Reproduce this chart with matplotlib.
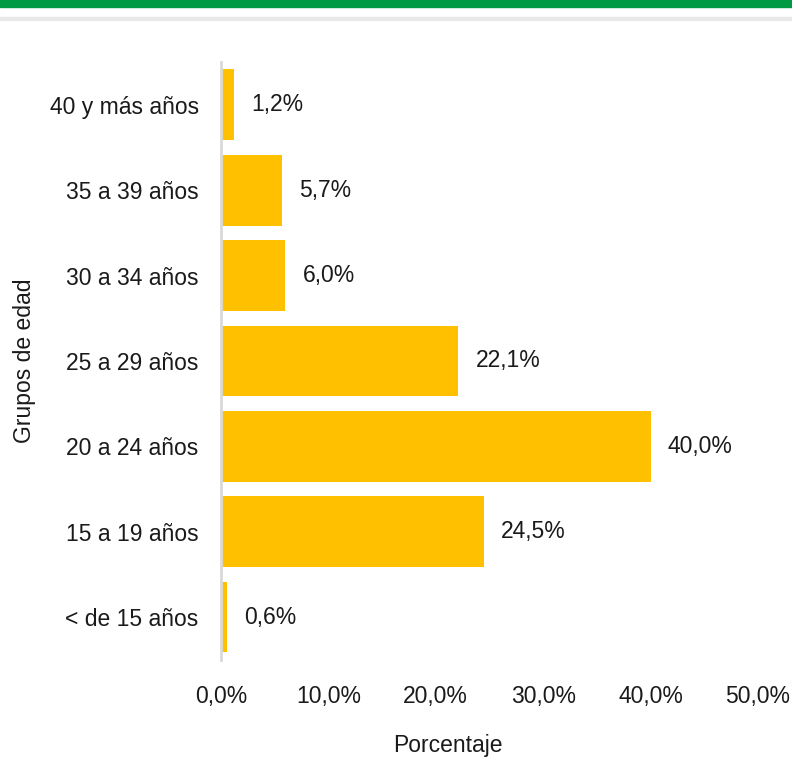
import matplotlib.pyplot as plt
from matplotlib.patches import Rectangle

# datos
grupos = ['< de 15 años', '15 a 19 años', '20 a 24 años', '25 a 29 años',
          '30 a 34 años', '35 a 39 años', '40 y más años']
porcentajes = [0.6, 24.5, 40.0, 22.1, 6.0, 5.7, 1.2]
xticks = [0, 10, 20, 30, 40, 50]

plt.rcParams['font.family'] = ['Liberation Sans Narrow', 'Liberation Sans', 'DejaVu Sans']
fs = 16.5

fig = plt.figure(figsize=(7.92, 7.68), dpi=100)
ax = fig.add_axes([0.279, 0.141, 0.678, 0.778])

# franja verde y linea gris superior
fig.patches.append(Rectangle((0, 1 - 7/768), 1, 7/768, transform=fig.transFigure,
                             color='#009A44', zorder=0))
fig.patches.append(Rectangle((0, 1 - 20/768), 1, 2.5/768, transform=fig.transFigure,
                             color='#E8E8E8', zorder=0))

ypos = range(len(grupos))
ax.barh(ypos, porcentajes, height=0.83, color='#FFC000')
for y, v in zip(ypos, porcentajes):
    ax.text(v + 1.6, y, f'{v:.1f}%'.replace('.', ','), va='center', ha='left',
            fontsize=fs, color='#1a1a1a')

ax.set_xlim(0, 50)
ax.set_ylim(-0.5, len(grupos) - 0.5)
ax.set_xticks(xticks)
ax.set_xticklabels([f'{t:.1f}%'.replace('.', ',') for t in xticks], fontsize=fs)
ax.set_yticks(list(ypos))
ax.set_yticklabels(grupos, fontsize=fs)
ax.tick_params(length=0, colors='#1a1a1a')
ax.tick_params(axis='y', pad=16)
ax.tick_params(axis='x', pad=18)

for s in ['top', 'right', 'bottom']:
    ax.spines[s].set_visible(False)
ax.spines['left'].set_color('#D9D9D9')
ax.spines['left'].set_linewidth(2)

ax.set_xlabel('Porcentaje', fontsize=fs, color='#1a1a1a')
ax.xaxis.set_label_coords(0.423, -0.125)
ax.set_ylabel('Grupos de edad', fontsize=fs, labelpad=10, color='#1a1a1a')

fig.savefig('out.png', dpi=100)
